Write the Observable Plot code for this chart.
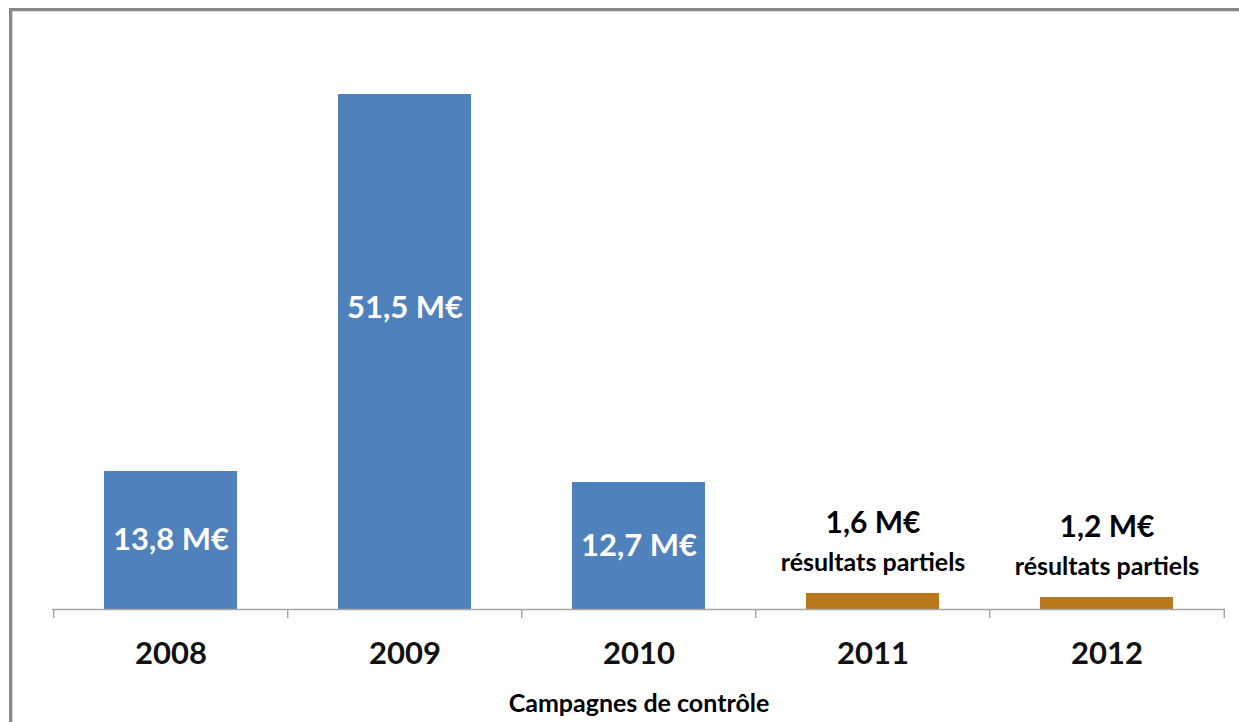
<!DOCTYPE html>
<html><head><meta charset="utf-8">
<script src="https://cdn.jsdelivr.net/npm/d3@7"></script>
<script src="https://cdn.jsdelivr.net/npm/@observablehq/plot@0.6"></script>
<style>
html,body{margin:0;background:#fff;font-family:Lato,sans-serif;overflow:hidden;}
#wrap{position:relative;width:1239px;height:722px;overflow:hidden;}
#frame{position:absolute;left:9px;top:8px;width:1300px;height:800px;border-top:3px solid #878787;border-left:3px solid #878787;box-shadow:inset 1px 1px 0 #d9d9d9;pointer-events:none;}
#chart{position:absolute;left:0;top:0;}
</style></head><body>
<div id="wrap"><div id="chart"></div><div id="frame"></div></div>
<script>
const years = ["2008", "2009", "2010", "2011", "2012"];
const values = [13.8, 51.5, 12.7, 1.6, 1.2];
const valueLabels = ["13,8 M€", "51,5 M€", "12,7 M€", "1,6 M€", "1,2 M€"];
const status = ["complet", "complet", "complet", "partiel", "partiel"];
const partialNote = "résultats partiels";
const xTitle = "Campagnes de contrôle";

const data = years.map((y, i) => ({year: y, value: values[i], label: valueLabels[i], status: status[i]}));
const full = data.filter(d => d.status === "complet");
const partial = data.filter(d => d.status === "partiel");

const W = 1239, H = 722, mL = 52, mR = 14, mT = 9, mB = 113;
const step = (W - mL - mR) / years.length;

const chart = Plot.plot({
  width: W, height: H,
  marginLeft: mL, marginRight: mR, marginTop: mT, marginBottom: mB,
  style: {fontFamily: "Lato, sans-serif", background: "transparent"},
  x: {domain: years, paddingInner: 0.43, paddingOuter: 0.215},
  y: {domain: [0, 60], axis: null},
  color: {domain: ["complet", "partiel"], range: ["#4F81BD", "#BA771C"]},
  marks: [
    Plot.barY(data, {x: "year", y: "value", fill: "status"}),
    Plot.ruleY([0], {stroke: "#a6a6a6", strokeWidth: 1.5}),
    Plot.ruleX(years, {x: d => d, dx: -step / 2, y1: 0, y2: -0.9, stroke: "#a6a6a6", strokeWidth: 1.5}),
    Plot.ruleX([years[years.length - 1]], {x: d => d, dx: step / 2, y1: 0, y2: -0.9, stroke: "#a6a6a6", strokeWidth: 1.5}),
    Plot.axisX({tickSize: 0, tickPadding: 32, fontSize: 31, fontWeight: "bold", fill: "#111", label: null}),
    Plot.text(full.filter(d => d.year !== "2009"), {x: "year", y: d => d.value / 2, text: "label", fill: "white", fontSize: 31, fontWeight: "bold", lineAnchor: "middle"}),
    Plot.text(full.filter(d => d.year === "2009"), {x: "year", y: d => d.value / 2, dy: -44, text: "label", fill: "white", fontSize: 31, fontWeight: "bold", lineAnchor: "middle"}),
    Plot.text(partial, {x: "year", y: "value", dy: -70, text: "label", fill: "#000", fontSize: 30, fontWeight: "bold", lineAnchor: "middle"}),
    Plot.text(partial, {x: "year", y: "value", dy: -31, text: () => partialNote, fill: "#000", fontSize: 25, fontWeight: "bold", lineAnchor: "middle"}),
    Plot.text([xTitle], {frameAnchor: "bottom", dy: 94, fontSize: 25, fontWeight: "bold", fill: "#000", lineAnchor: "middle"})
  ]
});
document.getElementById("chart").appendChild(chart);
</script>
</body></html>
